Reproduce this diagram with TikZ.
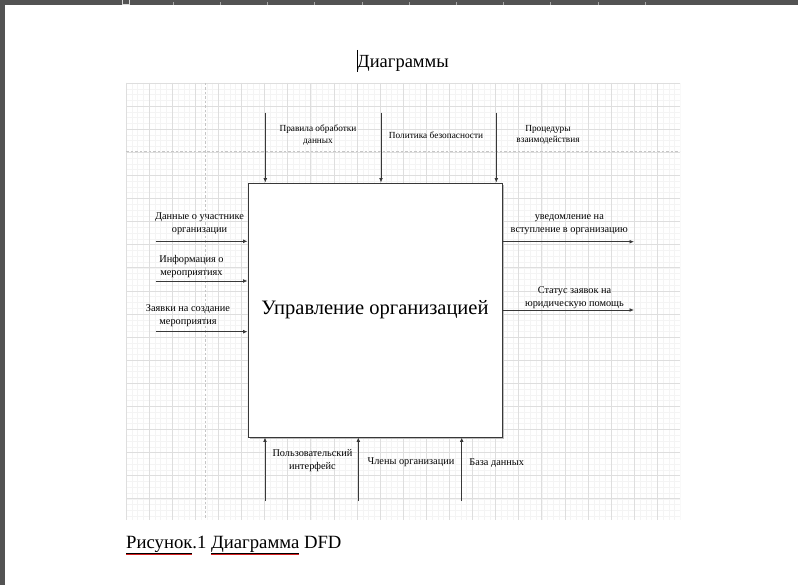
\documentclass[tikz,border=0pt]{standalone}
\usepackage{fontspec}
\setmainfont{Liberation Serif}
\usetikzlibrary{arrows.meta}
\definecolor{band}{HTML}{535353}
\definecolor{tickc}{HTML}{A8A8A8}
\definecolor{minorc}{HTML}{F4F4F4}
\definecolor{majorc}{HTML}{DEDEDE}
\definecolor{dashc}{HTML}{C6C6C6}
\definecolor{linec}{HTML}{383838}
\definecolor{shadowc}{HTML}{BDBDBD}
\definecolor{spellc}{HTML}{D42020}
\newcommand\spellmark[1]{\leavevmode\vtop{\hbox{#1}\kern0.9pt\hrule height 0.55pt\kern0.25pt{\color{spellc}\hrule height 0.5pt}}}
\begin{document}
\begin{tikzpicture}[x=1pt,y=-1pt,
  lbl/.style={align=center,inner sep=0pt,font=\fontsize{10.3}{13}\selectfont},
  tlbl/.style={align=center,inner sep=0pt,font=\fontsize{9.3}{11.4}\selectfont},
  arr/.style={draw=linec,line width=0.8pt,-{Latex[length=4.5pt,width=3.8pt]}},
  minorl/.style={draw=minorc,line width=0.5pt},
  majorl/.style={draw=majorc,line width=0.7pt},
  dashl/.style={draw=dashc,line width=0.7pt,dash pattern=on 2.5pt off 2pt},
  mainbox/.style={draw=linec,line width=0.9pt,fill=white,minimum width=254pt,minimum height=254pt,inner sep=0pt,font=\fontsize{20.5}{24}\selectfont}
]
\useasboundingbox (0,0) rectangle (798,585);
\fill[white] (0,0) rectangle (798,585);
% window chrome
\fill[band] (0,0) rectangle (798,5.5);
\fill[band] (0,0) rectangle (5,585);
\foreach \x in {173,220.2,...,646} \draw[tickc,line width=0.6pt] (\x,2.5) -- (\x,5.5);
\draw[draw=white!85!black,fill=band,line width=0.6pt] (122.5,-1) rectangle (129.5,4.5);
% grid background
\begin{scope}
\clip (126,83) rectangle (680,519.5);
\foreach \i in {0,...,96} \draw[minorl] ({126+\i*5.775},83) -- ({126+\i*5.775},520);
\foreach \i in {0,...,76} \draw[minorl] (126,{83+\i*5.775}) -- (680,{83+\i*5.775});
\foreach \i in {0,...,24} \draw[majorl] ({126+\i*23.1},83) -- ({126+\i*23.1},520);
\foreach \i in {0,...,19} \draw[majorl] (126,{83+\i*23.1}) -- (680,{83+\i*23.1});
\draw[dashl] (205.7,83) -- (205.7,520);
\draw[dashl] (126,151.3) -- (680,151.3);
\end{scope}
% title and cursor
\node[anchor=base,inner sep=0pt,font=\fontsize{18.5}{22}\selectfont] (title) at (403,67.5) {Диаграммы};
\draw[black,line width=0.8pt] (357,50) -- (357,72);
% main box
\fill[shadowc] (249.6,184.6) rectangle (503.8,438.8);
\node[mainbox] (main) at (375,310) {Управление организацией};
% controls (top)
\coordinate (t1) at (265.3,112.7);
\coordinate (t2) at (381,112.7);
\coordinate (t3) at (496.3,112.7);
\draw[arr] (t1) -- (t1 |- main.north);
\draw[arr] (t2) -- (t2 |- main.north);
\draw[arr] (t3) -- (t3 |- main.north);
\node[tlbl] (lt1) at (318,135) {Правила обработки\\данных};
\node[tlbl] (lt2) at (436,135) {Политика безопасности};
\node[tlbl] (lt3) at (548,135) {Процедуры\\взаимодействия};
% inputs (left)
\coordinate (i1) at (155.7,241.3);
\coordinate (i2) at (155.7,281);
\coordinate (i3) at (155.7,331.7);
\draw[arr] (i1) -- (i1 -| main.west);
\draw[arr] (i2) -- (i2 -| main.west);
\draw[arr] (i3) -- (i3 -| main.west);
\node[lbl] (li1) at (199.5,224.2) {Данные о участнике\\организации};
\node[lbl] (li2) at (191.5,266.3) {Информация о\\мероприятиях};
\node[lbl] (li3) at (188,316) {Заявки на создание\\мероприятия};
% outputs (right)
\coordinate (o1) at (634,241.7);
\coordinate (o2) at (634,310);
\draw[arr] (o1 -| main.east) -- (o1);
\draw[arr] (o2 -| main.east) -- (o2);
\node[lbl] (lo1) at (569.3,224.5) {уведомление на\\вступление в организацию};
\node[lbl] (lo2) at (574.5,297.3) {Статус заявок на\\юридическую помощь};
% mechanisms (bottom)
\coordinate (m1) at (265,501);
\coordinate (m2) at (358.3,501);
\coordinate (m3) at (461.7,501);
\draw[arr] (m1) -- (m1 |- main.south);
\draw[arr] (m2) -- (m2 |- main.south);
\draw[arr] (m3) -- (m3 |- main.south);
\node[lbl] (lm1) at (312.5,460.8) {Пользовательский\\интерфейс};
\node[lbl] (lm2) at (411,462.7) {Члены организации};
\node[lbl] (lm3) at (496.7,462.7) {База данных};
% caption
\node[anchor=base west,inner sep=0pt,font=\fontsize{18.7}{22}\selectfont] (cap) at (126,548) {\spellmark{Рисунок}.1 \spellmark{Диаграмма} DFD};
\end{tikzpicture}
\end{document}
